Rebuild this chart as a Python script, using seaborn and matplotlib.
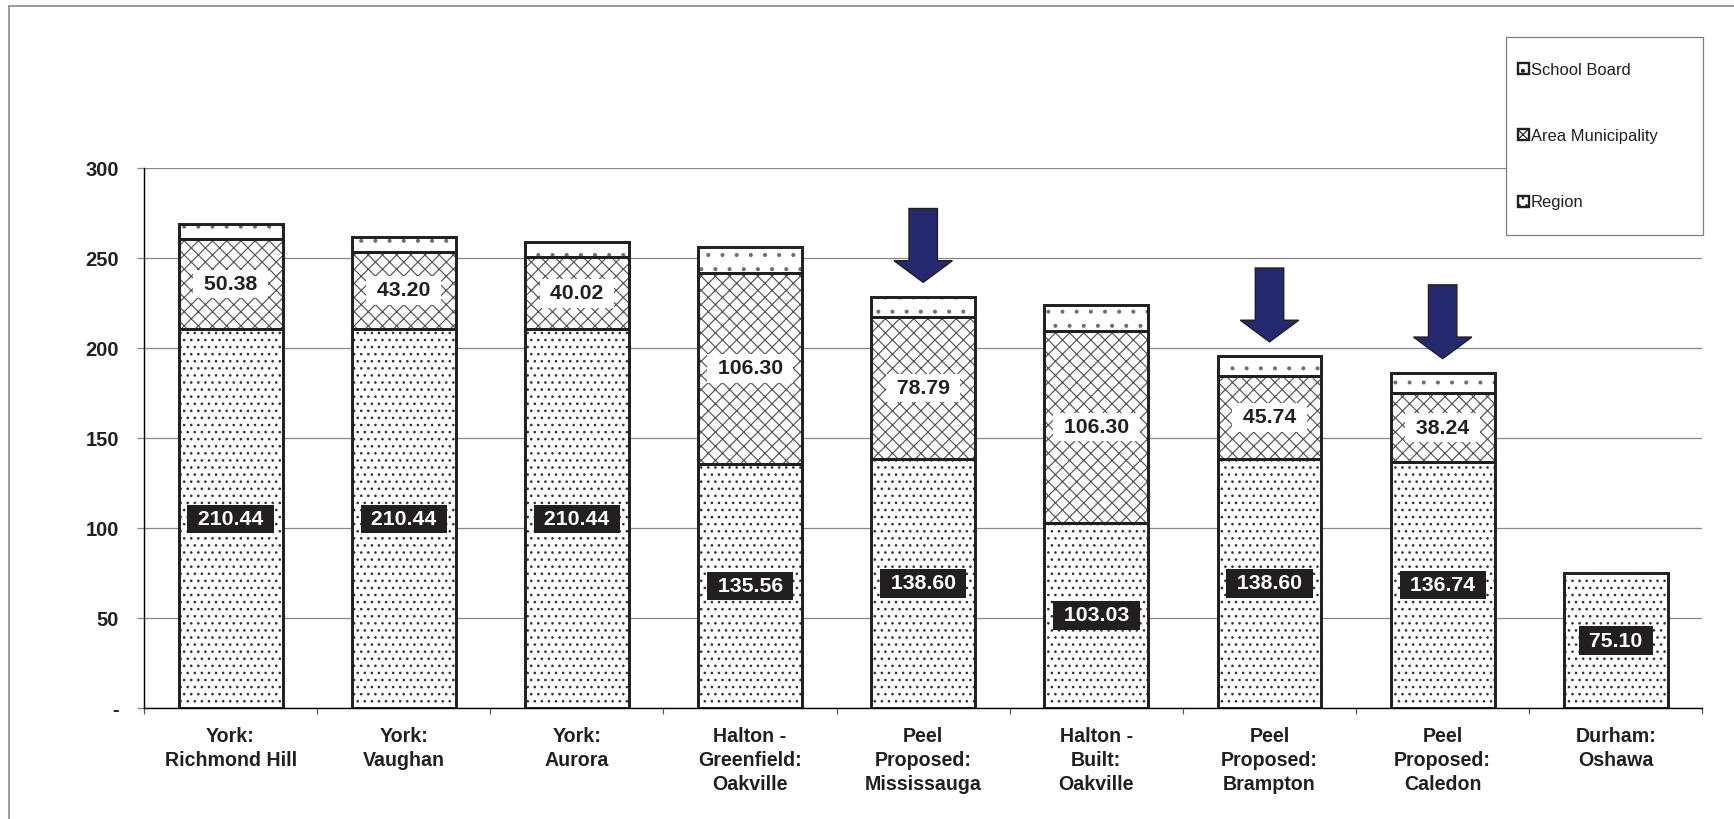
import numpy as np
import matplotlib
matplotlib.use("Agg")
import matplotlib.pyplot as plt
from matplotlib.patches import Patch, Rectangle
from matplotlib.lines import Line2D
from matplotlib.ticker import FixedLocator, FixedFormatter
import seaborn as sns

# ---- data -------------------------------------------------------------
categories = [
    "York:\nRichmond Hill",
    "York:\nVaughan",
    "York:\nAurora",
    "Halton -\nGreenfield:\nOakville",
    "Peel\nProposed:\nMississauga",
    "Halton -\nBuilt:\nOakville",
    "Peel\nProposed:\nBrampton",
    "Peel\nProposed:\nCaledon",
    "Durham:\nOshawa",
]
region = [210.44, 210.44, 210.44, 135.56, 138.60, 103.03, 138.60, 136.74, 75.10]
area_municipality = [50.38, 43.20, 40.02, 106.30, 78.79, 106.30, 45.74, 38.24, 0.0]
school_board = [8.3, 8.3, 8.3, 14.5, 11.2, 14.5, 11.2, 11.2, 0.0]
series_names = ["School Board", "Area Municipality", "Region"]
highlighted = [4, 6, 7]  # Peel proposals marked with arrows
y_ticks = [0, 50, 100, 150, 200, 250, 300]
y_tick_labels = ["-", "50", "100", "150", "200", "250", "300"]

# ---- style ------------------------------------------------------------
sns.set_style("white")
plt.rcParams["font.family"] = ["Liberation Sans", "DejaVu Sans"]
plt.rcParams["hatch.linewidth"] = 1.0

DPI = 85
INK = "#231F20"
GRID = "#8a8a8a"
HATCH_REGION = "#333333"
HATCH_AREA = "#555555"
HATCH_SCHOOL = "#6e6e6e"
ARROW = "#25296F"
W, H = 1734, 819

fig = plt.figure(figsize=(1734.4 / DPI, 819.4 / DPI), dpi=DPI)
fig.patch.set_facecolor("white")
ax = fig.add_axes([144 / W, 1 - 708.3 / H, (1702 - 144) / W, (708.3 - 168.5) / H])

region = np.array(region)
area_municipality = np.array(area_municipality)
school_board = np.array(school_board)
base_area = region
base_school = region + area_municipality
totals = base_school + school_board

bar_w = 0.6
layers = [
    (region, np.zeros_like(region), "..", HATCH_REGION),
    (area_municipality, base_area, "xx", HATCH_AREA),
    (school_board, base_school, ".", HATCH_SCHOOL),
]

# hatched fills (hatch colour follows the edge colour, so edges are hidden)
for vals, bottom, hatch, hcol in layers:
    sns.barplot(x=categories, y=vals, bottom=bottom, color="white",
                edgecolor=hcol, linewidth=0, hatch=hatch, width=bar_w,
                errorbar=None, ax=ax, zorder=2)

# heavy segment outlines
for vals, bottom, _, _ in layers:
    sns.barplot(x=categories, y=vals, bottom=bottom, fill=False, color=INK,
                linewidth=2.5, width=bar_w, errorbar=None, ax=ax, zorder=3)

# drop empty (zero height) segments
for p in list(ax.patches):
    if p.get_height() == 0:
        p.remove()

# ---- value labels -----------------------------------------------------
lab_fs = 18
for i, v in enumerate(region):
    ax.text(i, v / 2, f" {v:.2f} ", ha="center", va="center", fontsize=lab_fs,
            fontweight="bold", color="white", zorder=6,
            bbox=dict(boxstyle="square,pad=0.22", facecolor=INK, edgecolor="none"))
for i, v in enumerate(area_municipality):
    if v > 0:
        ax.text(i, base_area[i] + v / 2, f" {v:.2f} ", ha="center", va="center",
                fontsize=lab_fs, fontweight="bold", color=INK, zorder=6,
                bbox=dict(boxstyle="square,pad=0.22", facecolor="white", edgecolor="none"))

# ---- arrows over highlighted bars --------------------------------------
arrow_gap, arrow_len, head_len = 8.0, 41.0, 12.0
for i in highlighted:
    tip = totals[i] + arrow_gap
    ax.arrow(i, tip + arrow_len, 0, -arrow_len, width=0.164, head_width=0.337,
             head_length=head_len, length_includes_head=True,
             facecolor=ARROW, edgecolor=INK, linewidth=1.2, zorder=7)

# ---- axes -------------------------------------------------------------
ax.set_xlim(-0.5, len(categories) - 0.5)
ax.set_ylim(0, 300)
ax.set_xlabel("")
ax.set_ylabel("")

ax.yaxis.set_major_locator(FixedLocator(y_ticks))
ax.yaxis.set_major_formatter(FixedFormatter(y_tick_labels))
ax.grid(axis="y", color=GRID, linewidth=1.1)
ax.grid(axis="x", visible=False)
ax.set_axisbelow(True)

ax.tick_params(axis="y", which="major", direction="out", length=6, width=1.1,
               color=GRID, pad=15, labelsize=17, labelcolor=INK, left=True)
for t in ax.get_yticklabels():
    t.set_fontweight("bold")

ax.set_xticks(range(len(categories)))
ax.set_xticklabels(categories, fontsize=16.6, fontweight="bold", color=INK,
                   linespacing=1.35, va="top")
ax.set_xticks(np.arange(-0.5, len(categories), 1.0), minor=True)
ax.tick_params(axis="x", which="major", length=0, pad=15.5)
ax.tick_params(axis="x", which="minor", direction="out", length=5, width=1.0,
               color="#555555", bottom=True)

for s in ["top", "right"]:
    ax.spines[s].set_visible(False)
for s in ["left", "bottom"]:
    ax.spines[s].set_color("black")
    ax.spines[s].set_linewidth(1.2)

# ---- legend -----------------------------------------------------------
legend_hatch = {"School Board": ".", "Area Municipality": "xx", "Region": ".."}
handles = [Patch(facecolor="white", edgecolor=INK, hatch=legend_hatch[n], linewidth=2.0)
           for n in series_names]
fig.add_artist(Rectangle((1506 / W, 1 - 235 / H), (1703 - 1506) / W, (235 - 37) / H,
                         transform=fig.transFigure, facecolor="white",
                         edgecolor="#808080", linewidth=1.1, zorder=3))
leg = fig.legend(handles, series_names, loc="center left",
                 bbox_to_anchor=(1518 / W, 1 - 136.5 / H), frameon=False, borderpad=0,
                 borderaxespad=0, handlelength=0.65, handleheight=0.65,
                 handletextpad=0.1, labelspacing=3.1, fontsize=14, labelcolor=INK)
leg.set_zorder(4)

# ---- outer frame ------------------------------------------------------
fig.add_artist(Line2D([8.7 / W, 1.0], [1 - 6.7 / H] * 2, transform=fig.transFigure,
                      color="#808080", linewidth=1.3))
fig.add_artist(Line2D([8.7 / W] * 2, [0.0, 1 - 6.7 / H], transform=fig.transFigure,
                      color="#808080", linewidth=1.3))

fig.savefig("out.png", dpi=DPI, facecolor="white")
